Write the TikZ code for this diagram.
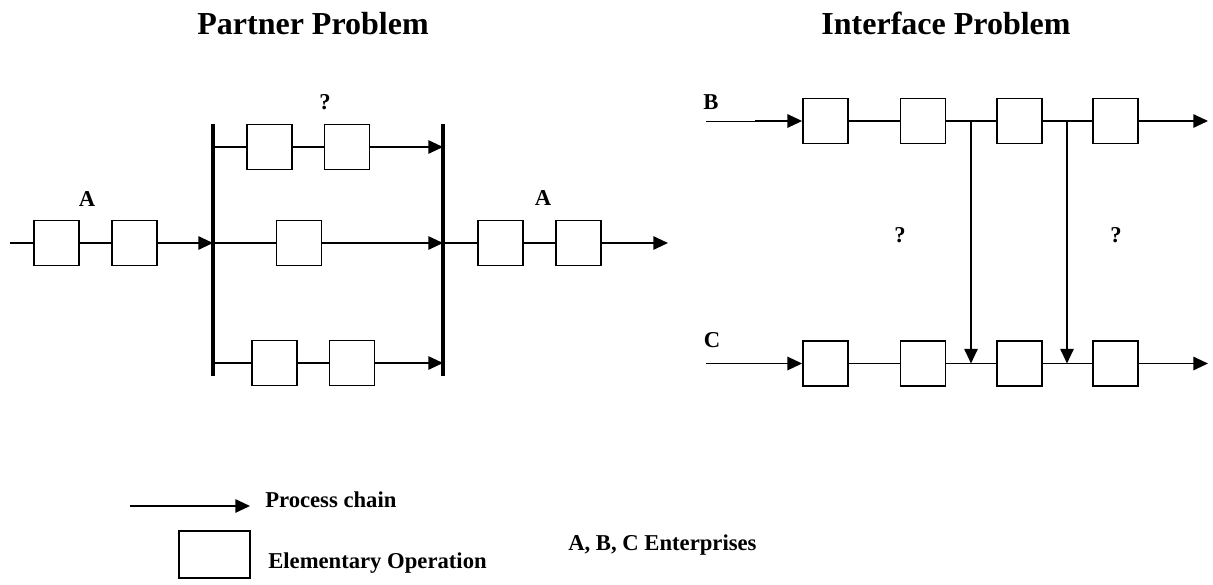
\documentclass[tikz,border=0pt]{standalone}
\usepackage{fontspec}
\setmainfont{Liberation Serif}
\usetikzlibrary{arrows.meta}

\tikzset{
  opbox/.style={draw, line width=1.1pt, minimum width=34pt, minimum height=34pt, inner sep=0pt},
  chainline/.style={line width=1.4pt},
  flow/.style={chainline, -{Triangle[length=11pt,width=10pt]}},
  bar/.style={line width=2.4pt},
  lbl/.style={font=\fontsize{17}{20}\selectfont\bfseries, inner sep=0pt},
  ttl/.style={font=\fontsize{24}{28}\selectfont\bfseries, inner sep=0pt},
}

\begin{document}
\begin{tikzpicture}[x=0.75pt,y=-0.75pt]
\useasboundingbox (0,0) rectangle (1213,585);

% titles
\node[ttl, anchor=base] (tpart) at (313,35) {Partner Problem};
\node[ttl, anchor=base] (tintf) at (946,35) {Interface Problem};

% partner problem: bars
\coordinate (bl1) at (213,124); \coordinate (bl2) at (213,376);
\coordinate (br1) at (443,124); \coordinate (br2) at (443,376);
\draw[bar] (bl1) -- (bl2);
\draw[bar] (br1) -- (br2);

% incoming chain A
\coordinate (ain) at (10,243);
\coordinate (lm) at (213,243);
\node[opbox] (a1) at (56.5,243) {};
\node[opbox] (a2) at (134.5,243) {};
\draw[chainline] (ain) -- (a1) -- (a2);
\draw[flow] (a2) -- (lm);

% alternative partners
\coordinate (lt) at (213,147); \coordinate (rt) at (443,147);
\node[opbox] (t1) at (269.5,147) {};
\node[opbox] (t2) at (347,147) {};
\draw[chainline] (lt) -- (t1) -- (t2);
\draw[flow] (t2) -- (rt);

\coordinate (rm) at (443,243);
\node[opbox] (m1) at (299,243) {};
\draw[chainline] (lm) -- (m1);
\draw[flow] (m1) -- (rm);

\coordinate (lb) at (213,363); \coordinate (rb) at (443,363);
\node[opbox] (b1) at (274.5,363) {};
\node[opbox] (b2) at (352,363) {};
\draw[chainline] (lb) -- (b1) -- (b2);
\draw[flow] (b2) -- (rb);

% outgoing chain A
\coordinate (aout) at (668,243);
\node[opbox] (r1) at (500.5,243) {};
\node[opbox] (r2) at (578.5,243) {};
\draw[chainline] (rm) -- (r1) -- (r2);
\draw[flow] (r2) -- (aout);

\node[lbl] (qpart) at (325,102) {?};
\node[lbl] (la1) at (87,199) {A};
\node[lbl] (la2) at (543,198) {A};

% interface problem: chain B
\coordinate (bin) at (706,121); \coordinate (bmid) at (755,121);
\coordinate (bout) at (1208,121);
\node[opbox] (p1) at (825.5,121) {};
\node[opbox] (p2) at (923,121) {};
\node[opbox] (p3) at (1019.5,121) {};
\node[opbox] (p4) at (1115.5,121) {};
\draw[line width=0.5pt] (bin) -- (bmid);
\draw[flow] (bmid) -- (p1);
\draw[chainline] (p1) -- (p2) -- (p3) -- (p4);
\draw[flow] (p4) -- (bout);

% chain C
\coordinate (cin) at (706,363.5); \coordinate (cout) at (1208,363.5);
\node[opbox] (q1) at (825.5,363.5) {};
\node[opbox] (q2) at (923,363.5) {};
\node[opbox] (q3) at (1019.5,363.5) {};
\node[opbox] (q4) at (1115.5,363.5) {};
\draw[flow] (cin) -- (q1);
\draw[chainline] (q1) -- (q2) -- (q3) -- (q4);
\draw[flow] (q4) -- (cout);

% hand-overs
\coordinate (v1t) at (971,121); \coordinate (v1b) at (971,363.5);
\coordinate (v2t) at (1067,121); \coordinate (v2b) at (1067,363.5);
\draw[flow] (v1t) -- (v1b);
\draw[flow] (v2t) -- (v2b);

\node[lbl] (lb1) at (711,102) {B};
\node[lbl] (lc1) at (712,340) {C};
\node[lbl] (qi1) at (900,235) {?};
\node[lbl] (qi2) at (1116,235) {?};

% legend
\coordinate (kin) at (130,506); \coordinate (kout) at (250,506);
\draw[flow] (kin) -- (kout);
\node[draw, line width=1.1pt, minimum width=53.5pt, minimum height=35.5pt, inner sep=0pt] (kbox) at (214.5,554.5) {};
\node[lbl, anchor=base west] (kchain) at (265,507) {Process chain};
\node[lbl, anchor=base west] (kop) at (268,568) {Elementary Operation};
\node[lbl, anchor=base west] (kent) at (568,550) {A, B, C Enterprises};
\end{tikzpicture}
\end{document}
